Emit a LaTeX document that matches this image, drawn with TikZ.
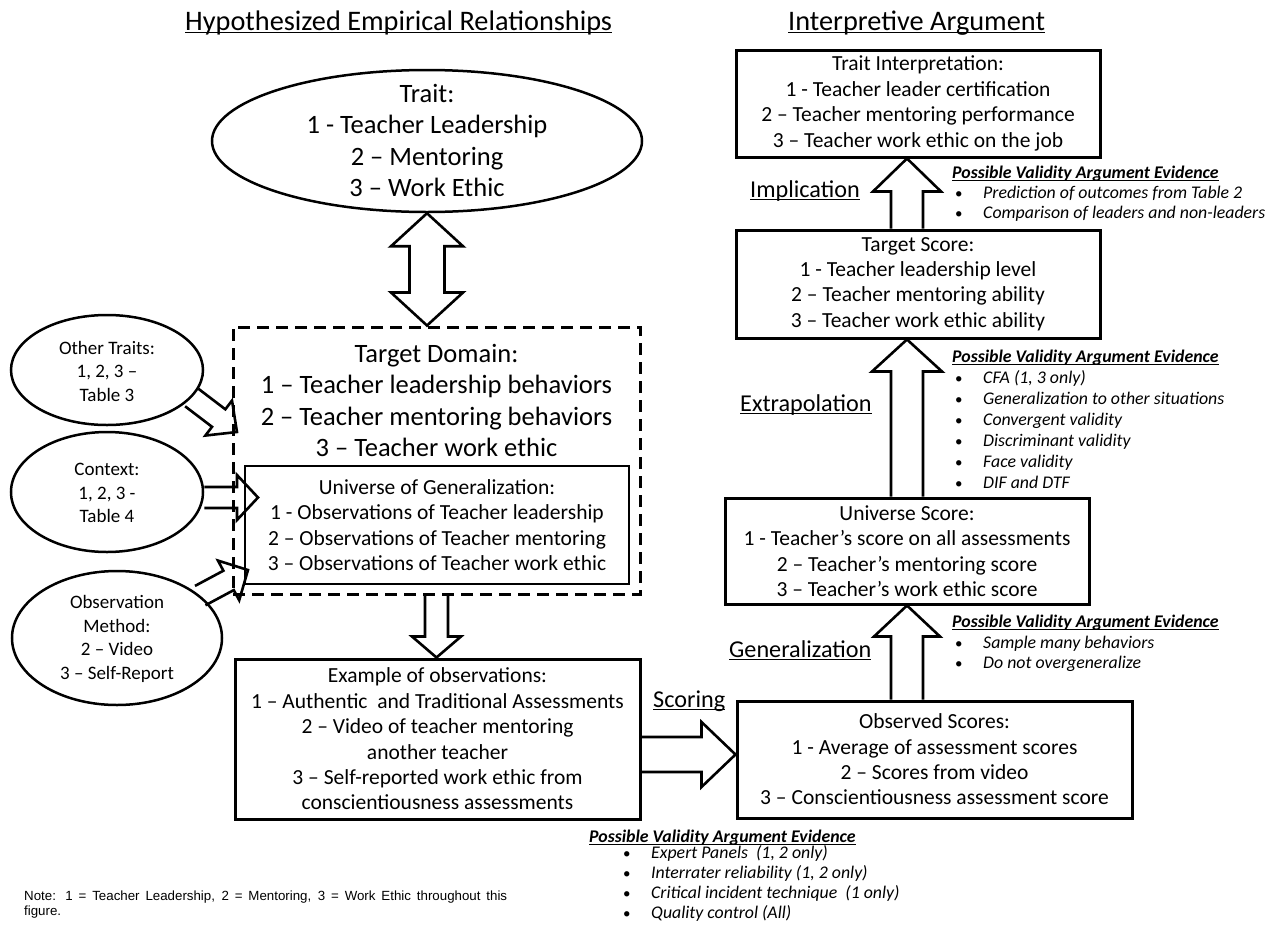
\documentclass[tikz,border=0pt]{standalone}
\usepackage{fontspec}
\setmainfont{Carlito}
\newfontfamily\notefont{Liberation Sans}
\usetikzlibrary{shapes.geometric,calc}

\newcommand\szHead{\fontsize{28.3}{34}\selectfont}
\newcommand\szTitle{\fontsize{26.5}{31.5}\selectfont}
\newcommand\szBox{\fontsize{21.5}{25.4}\selectfont}
\newcommand\szLab{\fontsize{24.2}{28}\selectfont}
\newcommand\szEll{\fontsize{19}{23.5}\selectfont}
\newcommand\szEv{\fontsize{17.8}{20}\selectfont}
\newcommand\myul[1]{\setbox0\hbox{#1}\rlap{\rule[-3.3pt]{\wd0}{1.3pt}}\box0}

\tikzset{
  boxst/.style={draw, line width=3pt, rectangle, inner sep=0pt, align=center, font=\szBox},
  ellst/.style={draw, line width=2.5pt, ellipse, inner sep=0pt},
  txt/.style={inner sep=0pt},
  blockar/.style={line width=2.6pt, line join=miter},
  evh/.style={inner sep=0pt, font=\szEv\bfseries\itshape},
  evi/.style={inner sep=0pt, font=\szEv\itshape},
}

% single block arrow: from, to, shaft half width, head half width, head length
\newcommand\blockarrow[5]{%
  \draw[blockar] let \p1=(#1), \p2=(#2),
    \n1={atan2(\y2-\y1,\x2-\x1)}, \n2={veclen(\x2-\x1,\y2-\y1)} in
    ([shift={(\p1)},rotate=\n1]0pt,#3pt)
    -- ([shift={(\p1)},rotate=\n1]{\n2-#5pt},#3pt)
    -- ([shift={(\p1)},rotate=\n1]{\n2-#5pt},#4pt)
    -- ([shift={(\p1)},rotate=\n1]{\n2},0pt)
    -- ([shift={(\p1)},rotate=\n1]{\n2-#5pt},-#4pt)
    -- ([shift={(\p1)},rotate=\n1]{\n2-#5pt},-#3pt)
    -- ([shift={(\p1)},rotate=\n1]0pt,-#3pt);}

% double block arrow
\newcommand\dblarrow[5]{%
  \draw[blockar] let \p1=(#1), \p2=(#2),
    \n1={atan2(\y2-\y1,\x2-\x1)}, \n2={veclen(\x2-\x1,\y2-\y1)} in
    ([shift={(\p1)},rotate=\n1]0pt,0pt)
    -- ([shift={(\p1)},rotate=\n1]#5pt,#4pt)
    -- ([shift={(\p1)},rotate=\n1]#5pt,#3pt)
    -- ([shift={(\p1)},rotate=\n1]{\n2-#5pt},#3pt)
    -- ([shift={(\p1)},rotate=\n1]{\n2-#5pt},#4pt)
    -- ([shift={(\p1)},rotate=\n1]{\n2},0pt)
    -- ([shift={(\p1)},rotate=\n1]{\n2-#5pt},-#4pt)
    -- ([shift={(\p1)},rotate=\n1]{\n2-#5pt},-#3pt)
    -- ([shift={(\p1)},rotate=\n1]#5pt,-#3pt)
    -- ([shift={(\p1)},rotate=\n1]#5pt,-#4pt)
    -- cycle;}

% evidence list: name, heading x, heading baseline, bullet x, text x, first offset, step, items
\newcommand\evidence[8]{%
  \node[evh, anchor=base west] (#1h) at (#2,#3) {\myul{Possible Validity Argument Evidence}};
  \foreach \itemtext [count=\i] in {#8} {
    \node[evi, anchor=base west] (#1b\i) at (#4,{#3+#6+(\i-1)*#7}) {\upshape\fontsize{15}{18}\selectfont •};
    \node[evi, anchor=base west] (#1i\i) at (#5,{#3+#6+(\i-1)*#7}) {\itemtext};
  }}

\begin{document}
\begin{tikzpicture}[x=1pt,y=-1pt]
\useasboundingbox (0,0) rectangle (1275,930);

% headings
\node[txt, anchor=base west, font=\szHead] (h1) at (185,30) {\myul{Hypothesized Empirical Relationships}};
\node[txt, anchor=base west, font=\szHead] (h2) at (788,30) {\myul{Interpretive Argument}};

% left side
\node[ellst, minimum width=430pt, minimum height=142pt] (trait) at (427,141) {};
\node[txt, align=center, font=\szTitle] (traitt) at (427,140.4)
  {Trait:\\1 - Teacher Leadership\\2 – Mentoring\\3 – Work Ethic};

\node[draw, line width=3pt, dash pattern=on 12pt off 7pt, minimum width=407pt, minimum height=267pt, inner sep=0pt] (td) at (436.5,460.5) {};
\node[txt, align=center, font=\szTitle] (tdt) at (436.5,400.5)
  {Target Domain:\\1 – Teacher leadership behaviors\\2 – Teacher mentoring behaviors\\3 – Teacher work ethic};
\node[boxst, line width=1.3pt, minimum width=384pt, minimum height=118pt] (ug) at (437,525)
  {Universe of Generalization:\\1 - Observations of Teacher leadership\\2 – Observations of Teacher mentoring\\3 – Observations of Teacher work ethic};

\node[ellst, minimum width=192pt, minimum height=110pt] (ot) at (107,370) {};
\node[txt, align=center, font=\szEll] (ott) at (107,371) {Other Traits:\\1, 2, 3 –\\Table 3};
\node[ellst, minimum width=192pt, minimum height=120pt] (ctx) at (107,492) {};
\node[txt, align=center, font=\szEll] (ctxt) at (107,493) {Context:\\1, 2, 3 -\\Table 4};
\node[ellst, minimum width=210pt, minimum height=134pt] (om) at (117,638) {};
\node[txt, align=center, font=\szEll] (omt) at (117,639) {Observation\\Method:\\2 – Video\\3 – Self-Report};

\node[boxst, minimum width=405pt, minimum height=160pt] (ex) at (437.5,739)
  {Example of observations:\\1 – Authentic~ and Traditional Assessments\\2 – Video of teacher mentoring\\another teacher\\3 – Self-reported work ethic from\\conscientiousness assessments};

% right side
\node[boxst, minimum width=364pt, minimum height=107pt] (ti) at (918,103.5)
  {Trait Interpretation:\\1 - Teacher leader certification\\2 – Teacher mentoring performance\\3 – Teacher work ethic on the job};
\node[boxst, minimum width=364pt, minimum height=108pt] (ts) at (918,284)
  {Target Score:\\1 - Teacher leadership level\\2 – Teacher mentoring ability\\3 – Teacher work ethic ability};
\node[boxst, minimum width=364pt, minimum height=106pt] (us) at (907,551)
  {Universe Score:\\1 - Teacher’s score on all assessments\\2 – Teacher’s mentoring score\\3 – Teacher’s work ethic score};
\node[boxst, minimum width=395pt, minimum height=117pt] (os) at (934.5,759.5)
  {Observed Scores:\\1 - Average of assessment scores\\2 – Scores from video\\3 – Conscientiousness assessment score};

% labels
\node[txt, anchor=base west, font=\szLab] (lImp) at (750,197) {\myul{Implication}};
\node[txt, anchor=base west, font=\szLab] (lExt) at (740,411) {\myul{Extrapolation}};
\node[txt, anchor=base west, font=\szLab] (lGen) at (729,657) {\myul{Generalization}};
\node[txt, anchor=base west, font=\szLab] (lSco) at (653,707) {\myul{Scoring}};

% arrows
\dblarrow{trait.south}{trait.south |- td.north}{17.5}{36}{33}
\coordinate (otTip) at (237,432);
\blockarrow{ot.-18}{otTip}{11}{22}{23}
\coordinate (cxTip) at (258,497.5);
\blockarrow{ctx.east |- cxTip}{cxTip}{10.5}{22.5}{21}
\coordinate (omTip) at (248,570);
\blockarrow{om.27}{omTip}{11}{22.5}{22}
\blockarrow{td.south}{ex.north -| td.south}{11.5}{24.5}{21}
\coordinate (scY) at (0,754.5);
\blockarrow{ex.east |- scY}{os.west |- scY}{17.5}{32.5}{34}
\blockarrow{ts.north -| us.north}{ti.south -| us.north}{16}{34}{33}
\blockarrow{us.north}{ts.south -| us.north}{16}{35}{32}
\blockarrow{os.north -| us.north}{us.south}{16}{33}{31}

% evidence
\evidence{eA}{952}{178}{955}{983}{20}{20}{{Prediction of outcomes from Table 2},{Comparison of leaders and non-leaders}}
\evidence{eB}{952}{362}{955}{983}{21}{21}{{CFA (1, 3 only)},{Generalization to other situations},{Convergent validity},{Discriminant validity},{Face validity},{DIF and DTF}}
\evidence{eC}{952}{627}{955}{983}{21}{20.5}{{Sample many behaviors},{Do not overgeneralize}}
\evidence{eD}{589}{842}{623}{651}{16}{20}{{Expert Panels~ (1, 2 only)},{Interrater reliability (1, 2 only)},{Critical incident technique~ (1 only)},{Quality control (All)}}

% note
\node[txt, anchor=base west, font=\notefont\fontsize{13.3}{15}\selectfont] (note1) at (24,900)
  {\makebox[483pt][s]{Note: 1 = Teacher Leadership, 2 = Mentoring, 3 = Work Ethic throughout this}};
\node[txt, anchor=base west, font=\notefont\fontsize{13.3}{15}\selectfont] (note2) at (24,915) {figure.};
\end{tikzpicture}
\end{document}
